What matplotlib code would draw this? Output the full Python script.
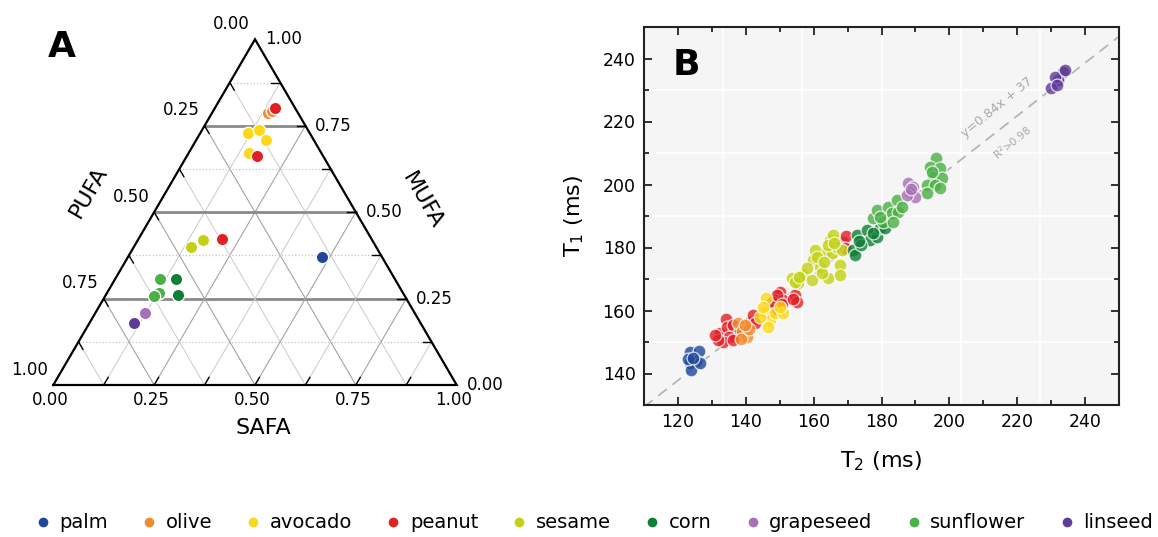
import numpy as np
import matplotlib
matplotlib.use("Agg")
import matplotlib.pyplot as plt
from matplotlib.lines import Line2D

OILS = ["palm", "olive", "avocado", "peanut", "sesame", "corn", "grapeseed", "sunflower", "linseed"]
COLORS = ["#21479b", "#f28b2d", "#fbd918", "#e31f26", "#c3d116", "#0f7e36", "#a672b5", "#4bb045", "#5d3b98"]

# panel A: fatty acid fractions per sample, PUFA = 1 - SAFA - MUFA
TERN_OIL = ["palm", "olive", "olive", "avocado", "avocado", "avocado", "avocado",
            "peanut", "peanut", "peanut", "sesame", "sesame", "corn", "corn",
            "grapeseed", "sunflower", "sunflower", "sunflower", "linseed"]
TERN_SAFA = [0.480, 0.138, 0.145, 0.119, 0.142, 0.173, 0.149,
             0.150, 0.174, 0.208, 0.142, 0.162, 0.150, 0.179,
             0.123, 0.112, 0.130, 0.120, 0.111]
TERN_MUFA = [0.371, 0.788, 0.793, 0.728, 0.738, 0.709, 0.670,
             0.800, 0.663, 0.421, 0.398, 0.419, 0.306, 0.260,
             0.207, 0.307, 0.265, 0.257, 0.180]

# panel B: relaxation times (ms)
PALM_T2 = [123.6, 126.3, 125.3, 123.6, 123.8, 126.5, 122.9, 124.5]
PALM_T1 = [146.9, 147.1, 144.1, 143.2, 141.1, 143.2, 144.5, 145.0]
PEANUT_T2 = [134.2, 132.4, 134.6, 136.3, 137.3, 135.1, 133.2, 136.3, 131.9, 138.3, 130.9,
             141.2, 142.2, 140.3, 142.7,
             150.1, 148.6, 149.6, 148.1, 151.1, 147.6, 149.1, 150.6,
             154.5, 155.0, 154.0,
             168.7, 169.5, 169.2]
PEANUT_T1 = [157.2, 152.8, 154.9, 155.4, 152.2, 151.7, 150.1, 150.6, 150.6, 153.8, 152.2,
             156.5, 158.6, 154.9, 155.9,
             166.0, 163.3, 161.2, 160.2, 163.3, 162.8, 164.9, 162.0,
             164.9, 162.8, 163.5,
             181.9, 183.5, 179.7]
OLIVE_T2 = [137.7, 139.0, 140.5, 138.5, 141.0, 139.8]
OLIVE_T1 = [156.0, 153.5, 151.5, 151.0, 154.0, 155.3]
AVOCADO_T2 = [146.1, 145.7, 147.1, 146.6, 148.6, 144.2, 151.1, 150.1, 145.0]
AVOCADO_T1 = [163.9, 159.6, 157.0, 154.9, 159.1, 158.0, 159.1, 161.2, 161.0]
SESAME_T2 = [153.5, 155.5, 157.0, 159.9, 159.4, 161.9, 163.3, 164.8, 165.8, 164.3,
             165.3, 167.8, 166.8, 162.4, 157.9, 164.3, 167.8, 160.4, 168.3, 154.5,
             155.8, 161.0, 166.0, 163.0]
SESAME_T1 = [170.2, 168.6, 171.3, 176.0, 169.7, 173.9, 178.1, 182.4, 184.0, 170.2,
             178.1, 174.4, 180.3, 171.8, 173.4, 180.8, 171.3, 179.2, 179.2, 169.0,
             170.5, 177.0, 181.5, 175.5]
CORN_T2 = [172.7, 171.7, 172.2, 175.6, 176.6, 178.6, 179.5, 177.6, 181.0, 174.1, 173.5]
CORN_T1 = [184.0, 179.2, 177.6, 185.6, 182.4, 183.4, 186.1, 184.5, 186.1, 180.8, 182.0]
GRAPESEED_T2 = [187.9, 189.4, 188.4, 189.9, 187.4, 188.8]
GRAPESEED_T1 = [200.4, 199.3, 197.7, 196.1, 196.7, 198.5]
SUNFLOWER_T2 = [177.6, 178.6, 180.5, 182.0, 183.0, 184.5, 185.0, 183.5, 179.5, 185.9,
                196.2, 194.3, 197.2, 195.3, 197.7, 193.3, 195.8, 193.3, 197.2, 194.8]
SUNFLOWER_T1 = [189.3, 191.9, 188.2, 193.0, 190.8, 195.1, 191.4, 188.2, 189.8, 193.0,
                208.3, 205.7, 205.1, 202.5, 202.0, 199.8, 199.8, 197.2, 198.8, 204.1]
LINSEED_T2 = [233.6, 232.1, 231.1, 230.1, 231.6, 234.0]
LINSEED_T1 = [235.8, 233.2, 234.2, 230.5, 231.6, 236.2]

FIT_SLOPE, FIT_ICPT = 0.84, 37

color_of = dict(zip(OILS, COLORS))
H = 345.7 / 403.4  # height of the triangle in data units


def tern(s, m):
    s = np.asarray(s, float)
    m = np.asarray(m, float)
    return s + m / 2, m * H


W, Hpx = 1158, 537
fig = plt.figure(figsize=(W / 100, Hpx / 100), dpi=100)

# ---------------- panel A: ternary ----------------
axA = fig.add_axes([0, 1 - 470 / Hpx, 540 / W, 470 / Hpx])
axA.set_xlim(-53.3 / 403.4, (540 - 53.3) / 403.4)
axA.set_ylim((385 - 470) / 403.4, 385 / 403.4)
axA.axis("off")

for v in np.arange(0.125, 1.0, 0.125):
    major = abs(v * 4 - round(v * 4)) < 1e-9
    x, y = tern([0, 1 - v], [v, v])
    if major:
        axA.plot(x, y, color="#8a8a8a", lw=2.0, zorder=1)
    else:
        axA.plot(x, y, color="#c4c4c4", lw=0.9, ls=":", zorder=1)
    dc, dw = ("#a3a3a3", 0.8) if major else ("#cacaca", 0.7)
    x, y = tern([v, v], [0, 1 - v])
    axA.plot(x, y, color=dc, lw=dw, zorder=1)
    x, y = tern([1 - v, 0], [0, 1 - v])
    axA.plot(x, y, color=dc, lw=dw, zorder=1)
    # short inward ticks on each edge
    t = 0.022
    x, y = tern([v, v], [0, t])
    axA.plot(x, y, color="black", lw=1.0, zorder=2)
    x, y = tern([1 - v, 1 - v - t], [v, v])
    axA.plot(x, y, color="black", lw=1.0, zorder=2)
    x, y = tern([0, t], [1 - v, 1 - v - t])
    axA.plot(x, y, color="black", lw=1.0, zorder=2)

x, y = tern([0, 1, 0, 0], [0, 0, 1, 0])
axA.plot(x, y, color="black", lw=1.6, zorder=3, solid_joinstyle="miter")

for v in [0, 0.25, 0.5, 0.75, 1.0]:
    lab = f"{v:.2f}"
    axA.text(v - 0.007, -0.037, lab, ha="center", va="center", fontsize=12)
    x, y = tern(1 - v, v)
    axA.text(x + 0.07, y, lab, ha="center", va="center", fontsize=12)
    x, y = tern(0, 1 - v)
    axA.text(x - 0.058, y + 0.038, lab, ha="center", va="center", fontsize=12)

axA.text(0.52, -0.1066, "SAFA", ha="center", va="center", fontsize=16)
axA.text(0.0863, 0.478, "PUFA", ha="center", va="center", fontsize=16, rotation=60)
axA.text(0.914, 0.456, "MUFA", ha="center", va="center", fontsize=16, rotation=-60)

for oil in OILS:
    idx = [i for i, o in enumerate(TERN_OIL) if o == oil]
    if not idx:
        continue
    x, y = tern([TERN_SAFA[i] for i in idx], [TERN_MUFA[i] for i in idx])
    axA.scatter(x, y, s=80, color=color_of[oil], edgecolors="white", linewidths=1.0, zorder=4)

# ---------------- panel B: T1 vs T2 ----------------
axB = fig.add_axes([644 / W, 1 - 405 / Hpx, 475 / W, 378 / Hpx])
axB.set_facecolor("#f5f5f5")
axB.set_xlim(110, 250)
axB.set_ylim(130, 250)
for gx in np.linspace(110, 250, 7)[1:-1]:
    axB.axvline(gx, color="white", lw=1.2, zorder=0)
for gy in np.linspace(130, 250, 7)[1:-1]:
    axB.axhline(gy, color="white", lw=1.2, zorder=0)

xs = np.array([110, 250])
axB.plot(xs, FIT_SLOPE * xs + FIT_ICPT, color="#b5b5b5", lw=1.3, ls=(0, (6, 4)), zorder=1)
axB.text(214, 224.5, f"y={FIT_SLOPE}x + {FIT_ICPT}", color="#a8a8a8", fontsize=9,
         rotation=39, ha="center", va="center")
axB.text(218.5, 213.5, "R$^2$>0.98", color="#a8a8a8", fontsize=7.5,
         rotation=39, ha="center", va="center")

series = [("palm", PALM_T2, PALM_T1), ("peanut", PEANUT_T2, PEANUT_T1),
          ("olive", OLIVE_T2, OLIVE_T1), ("avocado", AVOCADO_T2, AVOCADO_T1),
          ("sesame", SESAME_T2, SESAME_T1), ("corn", CORN_T2, CORN_T1),
          ("sunflower", SUNFLOWER_T2, SUNFLOWER_T1), ("grapeseed", GRAPESEED_T2, GRAPESEED_T1),
          ("linseed", LINSEED_T2, LINSEED_T1)]
for oil, t2, t1 in series:
    axB.scatter(t2, t1, s=85, color=color_of[oil], alpha=0.8, edgecolors="white",
                linewidths=0.9, zorder=3)

axB.set_xticks(range(120, 241, 20))
axB.set_yticks(range(140, 241, 20))
axB.set_xticks(range(110, 251, 10), minor=True)
axB.set_yticks(range(130, 251, 10), minor=True)
axB.tick_params(which="both", direction="in", top=True, right=True, width=1.3, color="#222222")
axB.tick_params(which="major", length=6, labelsize=12.5, pad=6)
axB.tick_params(which="minor", length=3.5)
for sp in axB.spines.values():
    sp.set_linewidth(1.5)
    sp.set_color("#222222")
axB.set_xlabel("T$_2$ (ms)", fontsize=16, labelpad=13)
axB.set_ylabel("T$_1$ (ms)", fontsize=16, labelpad=12)

fig.text(61.7 / W, 1 - 46.7 / Hpx, "A", fontsize=26, fontweight="heavy", ha="center", va="center")
fig.text(686.7 / W, 1 - 65 / Hpx, "B", fontsize=26, fontweight="heavy", ha="center", va="center")

handles = [Line2D([], [], ls="none", marker="o", markersize=7, color=c, markeredgewidth=0)
           for c in COLORS]
fig.legend(handles, OILS, loc="center", bbox_to_anchor=(0.512, 1 - 523 / Hpx), ncol=9,
           frameon=False, fontsize=14, handletextpad=0.35, columnspacing=1.62,
           handlelength=1.0, borderaxespad=0)

fig.savefig("out.png", dpi=100)
